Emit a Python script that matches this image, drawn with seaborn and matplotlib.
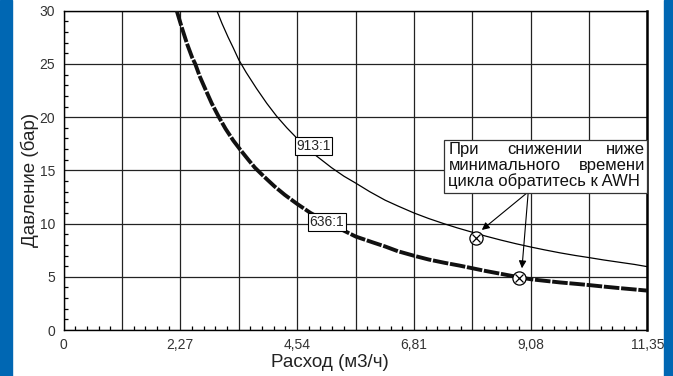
import matplotlib
matplotlib.use("Agg")
import matplotlib.pyplot as plt
import seaborn as sns
from matplotlib.patches import Rectangle
from matplotlib.ticker import MultipleLocator, FixedLocator

# --- data ---
flow_636 = [2.20, 2.30, 2.40, 2.50, 2.56, 2.65, 2.75, 2.88, 3.02, 3.15, 3.30,
            3.45, 3.60, 3.72, 3.90, 4.10, 4.30, 4.54, 4.80, 5.10, 5.40, 5.68,
            6.00, 6.25, 6.50, 6.81, 7.10, 7.40, 7.70, 7.95, 8.20, 8.50, 8.86,
            9.08, 9.40, 9.65, 10.00, 10.22, 10.50, 10.80, 11.10, 11.35]
press_636 = [30.0, 28.4, 26.9, 25.6, 25.0, 23.8, 22.7, 21.3, 20.0, 18.9, 17.8,
             16.85, 15.95, 15.25, 14.4, 13.5, 12.7, 11.85, 11.0, 10.2, 9.45, 8.78,
             8.25, 7.85, 7.40, 6.98, 6.62, 6.32, 6.05, 5.80, 5.55, 5.28, 4.95,
             4.77, 4.60, 4.47, 4.32, 4.22, 4.08, 3.94, 3.81, 3.70]

flow_913 = [2.98, 3.08, 3.20, 3.30, 3.405, 3.55, 3.75, 3.95, 4.14, 4.34, 4.54,
            4.85, 5.21, 5.45, 5.68, 5.95, 6.25, 6.50, 6.81, 7.10, 7.40, 7.65,
            7.95, 8.20, 8.50, 8.80, 9.08, 9.35, 9.65, 9.95, 10.22, 10.50,
            10.80, 11.10, 11.35]
press_913 = [30.0, 28.8, 27.5, 26.5, 25.4, 24.2, 22.7, 21.3, 20.1, 19.0, 18.0,
             16.6, 15.25, 14.45, 13.8, 13.0, 12.2, 11.65, 11.0, 10.47, 9.98, 9.6,
             9.18, 8.83, 8.45, 8.1, 7.8, 7.53, 7.25, 7.0, 6.8, 6.58, 6.37,
             6.16, 5.95]

# minimum cycle time points
limit_flow = [8.02, 8.86]
limit_press = [8.6, 4.92]

x_ticks = [0, 1.135, 2.27, 3.405, 4.54, 5.675, 6.81, 7.945, 9.08, 10.215, 11.35]
x_tick_labels = ["0", "", "2,27", "", "4,54", "", "6,81", "", "9,08", "", "11,35"]
y_ticks = [0, 5, 10, 15, 20, 25, 30]

sns.set_style("white")
plt.rcParams["font.family"] = ["Liberation Sans", "DejaVu Sans"]

fig = plt.figure(figsize=(6.73, 3.76), dpi=100)
ax = fig.add_axes([0.0944, 0.1223, 0.8677, 0.8492])

# blue frame strips at left and right
fig.patches.append(Rectangle((0, 0), 12 / 673, 1, transform=fig.transFigure,
                             color="#0067b3", zorder=0))
fig.patches.append(Rectangle((664 / 673, 0), 9 / 673, 1, transform=fig.transFigure,
                             color="#0067b3", zorder=0))

sns.lineplot(x=flow_913, y=press_913, ax=ax, color="black", lw=0.9,
             sort=False, estimator=None, zorder=3)
sns.lineplot(x=flow_636, y=press_636, ax=ax, color="#111111", lw=2.8,
             sort=False, estimator=None, zorder=3, linestyle=(0, (4, 0.45)))

ax.plot(limit_flow, limit_press, "o", ms=9.5, mfc="white", mec="black",
        mew=0.9, zorder=5)
ax.plot(limit_flow, limit_press, "x", ms=6, color="black", mew=0.9, zorder=6)

ax.set_xlim(0, 11.35)
ax.set_ylim(0, 30)
ax.xaxis.set_major_locator(FixedLocator(x_ticks))
ax.set_xticklabels(x_tick_labels)
ax.xaxis.set_minor_locator(MultipleLocator(0.227))
ax.set_yticks(y_ticks)
ax.yaxis.set_minor_locator(MultipleLocator(1))

ax.grid(True, which="major", color="#222222", lw=0.9)
ax.set_axisbelow(True)
ax.tick_params(which="major", direction="out", length=3, width=0.9,
               color="black", labelsize=10, labelcolor="#333333", pad=3)
ax.tick_params(which="minor", direction="in", length=3, width=0.9,
               color="black", bottom=True, left=True)
for side in ["left", "bottom", "top"]:
    ax.spines[side].set_color("black")
    ax.spines[side].set_linewidth(1.0)
ax.spines["right"].set_color("black")
ax.spines["right"].set_linewidth(1.8)

ax.set_xlabel("Расход (м3/ч)", fontsize=13.5, color="#222222")
ax.xaxis.set_label_coords(0.456, -0.075)
ax.set_ylabel("Давление (бар)", fontsize=13.5, color="#222222")
ax.yaxis.set_label_coords(-0.042, 0.47)

# curve labels
box = dict(boxstyle="square,pad=0.12", fc="white", ec="black", lw=0.8)
ax.text(4.86, 17.3, "913:1", fontsize=10, ha="center", va="center",
        bbox=box, zorder=7, family=["Liberation Sans Narrow", "Liberation Sans"])
ax.text(5.12, 10.15, "636:1", fontsize=10, ha="center", va="center",
        bbox=box, zorder=7, family=["Liberation Sans Narrow", "Liberation Sans"])

# note box with justified text
ax.add_patch(Rectangle((7.40, 12.88), 11.35 - 7.40, 17.86 - 12.88, fc="white",
                       ec="#333333", lw=0.9, zorder=7, clip_on=False))
note_kw = dict(fontsize=12, va="center", zorder=8, color="#111111")
ax.text(7.48, 17.0, "При", ha="left", **note_kw)
ax.text(9.35, 17.0, "снижении", ha="center", **note_kw)
ax.text(11.30, 17.0, "ниже", ha="right", **note_kw)
ax.text(7.48, 15.5, "минимального", ha="left", **note_kw)
ax.text(11.30, 15.5, "времени", ha="right", **note_kw)
ax.text(7.48, 14.0, "цикла обратитесь к AWH", ha="left", **note_kw)

arrow = dict(arrowstyle="-|>", color="black", lw=0.8, mutation_scale=11,
             shrinkA=0, shrinkB=0)
ax.annotate("", xy=(8.13, 9.40), xytext=(9.00, 12.85), arrowprops=arrow, zorder=6)
ax.annotate("", xy=(8.91, 5.80), xytext=(9.03, 12.85), arrowprops=arrow, zorder=6)

fig.savefig("out.png", dpi=100)
